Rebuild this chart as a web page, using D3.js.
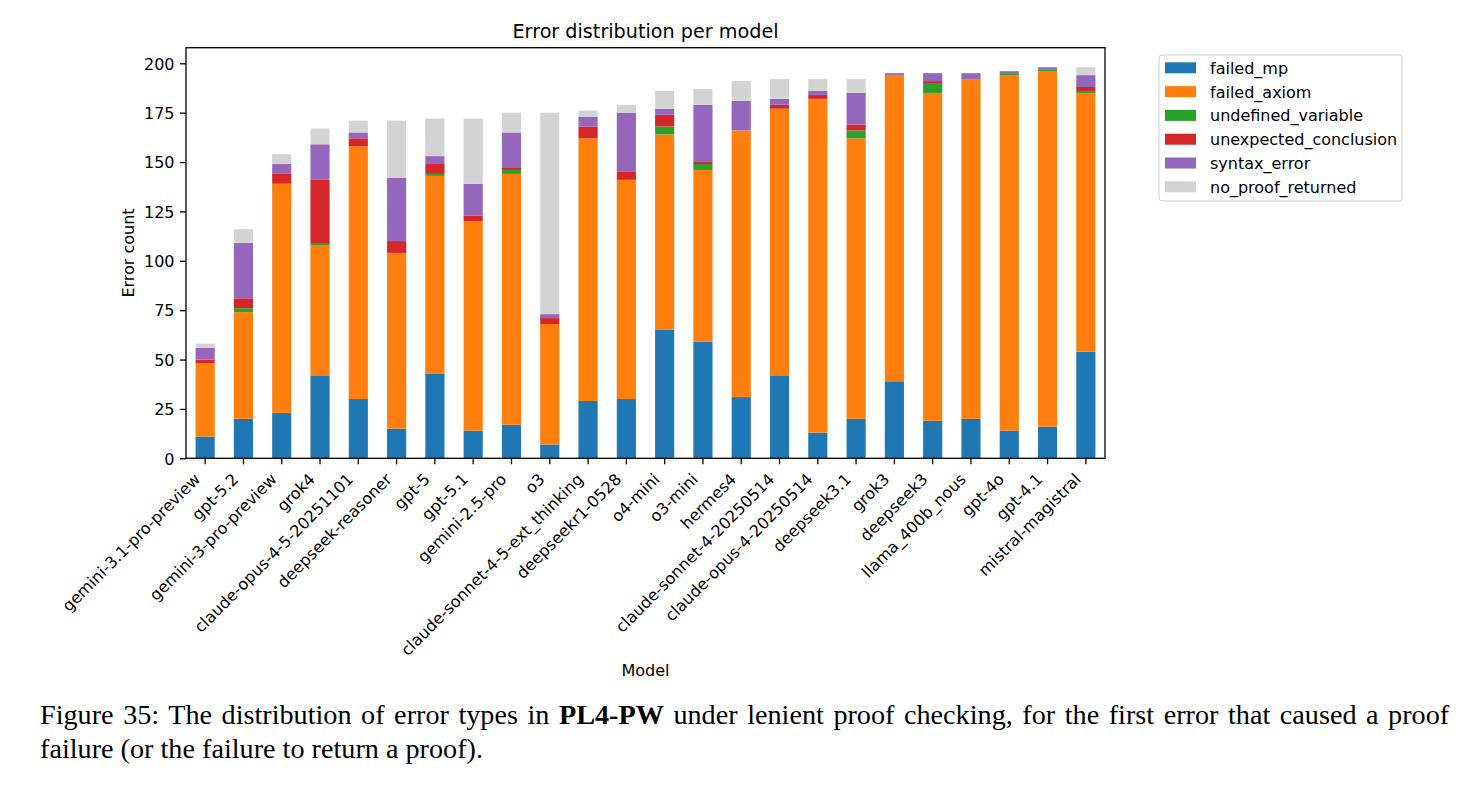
<!DOCTYPE html>
<html>
<head>
<meta charset="utf-8">
<script src="https://cdn.jsdelivr.net/npm/d3@7"></script>
<style>
  body { margin: 0; background: #fff; }
  svg text { font-family: "DejaVu Sans", sans-serif; fill: #000; }
  .caption { font-family: "Liberation Serif", "Times New Roman", serif; }
</style>
</head>
<body>
<svg id="chart" width="1465" height="789"></svg>
<script>
// models on the x axis
let models = ['gemini-3.1-pro-preview', 'gpt-5.2', 'gemini-3-pro-preview', 'grok4',
  'claude-opus-4-5-20251101', 'deepseek-reasoner', 'gpt-5', 'gpt-5.1', 'gemini-2.5-pro', 'o3',
  'claude-sonnet-4-5-ext_thinking', 'deepseekr1-0528', 'o4-mini', 'o3-mini', 'hermes4',
  'claude-sonnet-4-20250514', 'claude-opus-4-20250514', 'deepseek3.1', 'grok3', 'deepseek3',
  'llama_400b_nous', 'gpt-4o', 'gpt-4.1', 'mistral-magistral'];

let errorTypes = ['failed_mp', 'failed_axiom', 'undefined_variable', 'unexpected_conclusion',
  'syntax_error', 'no_proof_returned'];

// counts per model, same order as models
let failedMp        = [11, 20, 23, 42, 30, 15, 43, 14, 17, 7, 29, 30, 65, 59, 31, 42, 13, 20, 39, 19, 20, 14, 16, 54];
let failedAxiom     = [37, 54, 116, 66, 128, 89, 100, 106, 127, 61, 133, 111, 99, 87, 135, 135, 169, 142, 155, 166, 172, 180, 180, 131];
let undefinedVar    = [0, 2, 0, 1, 0, 0, 1, 0, 2, 0, 0, 0, 4, 3, 0, 0, 0, 4, 0, 5, 0, 1, 1, 1];
let unexpectedConcl = [2, 5, 5, 32, 4, 6, 5, 3, 1, 3, 6, 4, 6, 1, 0, 2, 2, 3, 0, 1, 0, 0, 0, 2];
let syntaxError     = [6, 28, 5, 18, 3, 32, 4, 16, 18, 2, 5, 30, 3, 29, 15, 3, 2, 16, 1, 4, 3, 1, 1, 6];
let noProof         = [2, 7, 5, 8, 6, 29, 19, 33, 10, 102, 3, 4, 9, 8, 10, 10, 6, 7, 0, 0, 0, 0, 0, 4];

let yTicks = [0, 25, 50, 75, 100, 125, 150, 175, 200];
let colors = ['#1f77b4', '#ff7f0e', '#2ca02c', '#d62728', '#9467bd', '#d3d3d3'];

let series = [failedMp, failedAxiom, undefinedVar, unexpectedConcl, syntaxError, noProof];
let rows = models.map((m, i) => {
  let row = { model: m };
  errorTypes.forEach((t, j) => { row[t] = series[j][i]; });
  return row;
});

let svg = d3.select('#chart');
let plotLeft = 186, plotRight = 1105, plotTop = 47.7, plotBottom = 458.3;

let stacked = d3.stack().keys(errorTypes)(rows);
let maxTotal = d3.max(rows, r => d3.sum(errorTypes, t => r[t]));

let x = d3.scaleBand()
  .domain(models)
  .range([plotLeft, plotRight])
  .paddingInner(0.5)
  .paddingOuter(0.25);

let y = d3.scaleLinear()
  .domain([0, maxTotal * 1.05])
  .range([plotBottom, plotTop]);

let color = d3.scaleOrdinal().domain(errorTypes).range(colors);

// bars
svg.append('g')
  .selectAll('g')
  .data(stacked)
  .enter()
  .append('g')
  .attr('fill', s => color(s.key))
  .selectAll('rect')
  .data(s => s)
  .enter()
  .append('rect')
  .attr('x', d => x(d.data.model))
  .attr('width', x.bandwidth())
  .attr('y', d => y(d[1]))
  .attr('height', d => y(d[0]) - y(d[1]));

// axes
let xAxis = svg.append('g')
  .attr('transform', 'translate(0,' + plotBottom + ')')
  .call(d3.axisBottom(x).tickSize(6).tickSizeOuter(0));
xAxis.selectAll('text')
  .attr('font-size', 16)
  .attr('text-anchor', 'end')
  .attr('dy', null)
  .attr('y', 0)
  .attr('transform', 'translate(-4,22) rotate(-45)');

let yAxis = svg.append('g')
  .attr('transform', 'translate(' + plotLeft + ',0)')
  .call(d3.axisLeft(y).tickValues(yTicks).tickSize(6).tickSizeOuter(0));
yAxis.selectAll('text').attr('font-size', 16).attr('x', -11.5).attr('dy', '0.36em');

svg.selectAll('.domain').remove();
svg.selectAll('.tick line').attr('stroke', '#000').attr('stroke-width', 1.3);

svg.append('rect')
  .attr('x', plotLeft).attr('y', plotTop)
  .attr('width', plotRight - plotLeft).attr('height', plotBottom - plotTop)
  .attr('fill', 'none').attr('stroke', '#000').attr('stroke-width', 1.3);

// titles
svg.append('text')
  .attr('x', (plotLeft + plotRight) / 2).attr('y', 38)
  .attr('text-anchor', 'middle').attr('font-size', 19.2)
  .text('Error distribution per model');

svg.append('text')
  .attr('transform', 'translate(134,' + ((plotTop + plotBottom) / 2) + ') rotate(-90)')
  .attr('text-anchor', 'middle').attr('font-size', 16)
  .text('Error count');

svg.append('text')
  .attr('x', (plotLeft + plotRight) / 2).attr('y', 676)
  .attr('text-anchor', 'middle').attr('font-size', 16)
  .text('Model');

// legend
let legend = svg.append('g').attr('transform', 'translate(1159,55)');
legend.append('rect')
  .attr('width', 243).attr('height', 146).attr('rx', 3)
  .attr('fill', '#fff').attr('stroke', '#d0d0d0');
let item = legend.selectAll('g.item')
  .data(errorTypes)
  .enter()
  .append('g')
  .attr('class', 'item')
  .attr('transform', (t, i) => 'translate(0,' + (12.8 + i * 23.8) + ')');
item.append('rect')
  .attr('x', 6).attr('y', -5.5).attr('width', 31).attr('height', 11)
  .attr('fill', t => color(t));
item.append('text')
  .attr('x', 51).attr('y', 6).attr('font-size', 16)
  .text(t => t);

// caption (first line justified like the paper)
let cap1 = svg.append('text').attr('class', 'caption')
  .attr('x', 40).attr('y', 724).attr('font-size', 28.2)
  .attr('word-spacing', 2.5);
cap1.append('tspan').text('Figure 35: The distribution of error types in ');
cap1.append('tspan').attr('font-weight', 'bold').text('PL4-PW');
cap1.append('tspan').text(' under lenient proof checking, for the first error that caused a proof');

svg.append('text').attr('class', 'caption')
  .attr('x', 40).attr('y', 758).attr('font-size', 28.2)
  .text('failure (or the failure to return a proof).');
</script>
</body>
</html>
